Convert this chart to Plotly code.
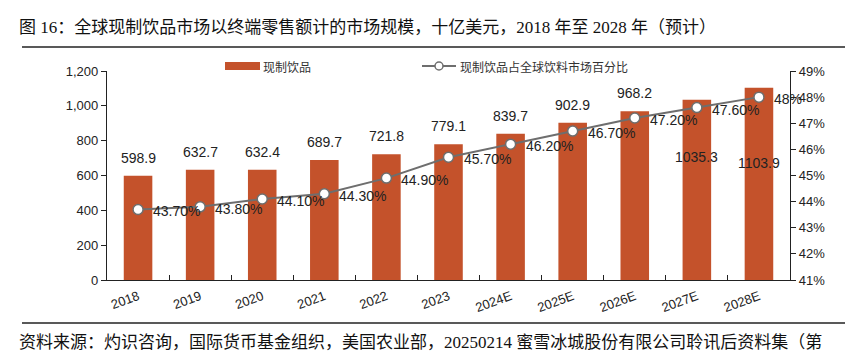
import plotly.graph_objects as go

years = ["2018", "2019", "2020", "2021", "2022", "2023", "2024E", "2025E", "2026E", "2027E", "2028E"]
market = [598.9, 632.7, 632.4, 689.7, 721.8, 779.1, 839.7, 902.9, 968.2, 1035.3, 1103.9]
share = [0.437, 0.438, 0.441, 0.443, 0.449, 0.457, 0.462, 0.467, 0.472, 0.476, 0.480]
share_labels = ["43.70%", "43.80%", "44.10%", "44.30%", "44.90%", "45.70%", "46.20%", "46.70%", "47.20%", "47.60%", "48%"]
y_ticks = [0, 200, 400, 600, 800, 1000, 1200]
bar_name = "现制饮品"
line_name = "现制饮品占全球饮料市场百分比"

BAR = "#C4522B"
LINE = "#6E6E6E"
NUM_FONT = "Liberation Sans, Arial, sans-serif"
CJK = "Liberation Serif, Noto Sans CJK SC, serif"

W, H = 845, 353
L, R, T, B = 107, 55, 71, 73
pw, ph = W - L - R, H - T - B

fig = go.Figure()
fig.add_trace(go.Bar(x=years, y=market, name=bar_name, marker=dict(color=BAR, line=dict(width=0)),
                     width=0.46, hoverinfo="skip", showlegend=False))
fig.add_trace(go.Scatter(x=years, y=share, name=line_name, yaxis="y2", showlegend=False,
                         mode="lines+markers", line=dict(color=LINE, width=2),
                         marker=dict(size=10, color="white", line=dict(color=LINE, width=1.5))))

ann = []
for i, v in enumerate(market):
    if i < 9:
        ann.append(dict(x=i, y=v, xref="x", yref="y", text=f"{v:.1f}", showarrow=False,
                        yanchor="bottom", yshift=8, font=dict(family=NUM_FONT, size=14, color="#222")))
    else:
        ann.append(dict(x=i, y=v * (0.68 if i == 9 else 0.61), xref="x", yref="y", text=f"{v:.1f}", showarrow=False,
                        yanchor="middle", font=dict(family=NUM_FONT, size=14, color="#222")))
for i, (p, t) in enumerate(zip(share, share_labels)):
    ann.append(dict(x=i, y=p, xref="x", yref="y2", text=t, showarrow=False, xanchor="left",
                    xshift=13, yshift=-2, font=dict(family=NUM_FONT, size=14, color="#222")))

def px2paper(px, py):
    return (px - L) / pw, (H - B - py) / ph

def text_at(px, py, text, size, family, color="#111"):
    x, y = px2paper(px, py)
    return dict(x=x, y=y, xref="paper", yref="paper", text=text, showarrow=False,
                xanchor="left", yanchor="middle", font=dict(family=family, size=size, color=color))

ann.append(text_at(17, 27, "图 16：全球现制饮品市场以终端零售额计的市场规模，十亿美元，2018 年至 2028 年（预计）", 17, CJK))
ann.append(text_at(17, 342, "资料来源：灼识咨询，国际货币基金组织，美国农业部，20250214 蜜雪冰城股份有限公司聆讯后资料集（第", 17, CJK))
ann.append(text_at(261, 66, bar_name, 12, "Noto Sans CJK SC", "#333"))
ann.append(text_at(458, 66, line_name, 12, "Noto Sans CJK SC", "#333"))

def hline(py, x0p=22, x1p=845, color="#222", width=1.3):
    x0, y0 = px2paper(x0p, py)
    x1, _ = px2paper(x1p, py)
    return dict(type="line", xref="paper", yref="paper", x0=x0, x1=x1, y0=y0, y1=y0,
                line=dict(color=color, width=width))

def rect(px0, py0, px1, py1, fill):
    x0, y0 = px2paper(px0, py1)
    x1, y1 = px2paper(px1, py0)
    return dict(type="rect", xref="paper", yref="paper", x0=x0, x1=x1, y0=y0, y1=y1,
                fillcolor=fill, line=dict(width=0))

cx, cy = px2paper(439, 66)
rx = 4 / pw
ry = 4 / ph
shapes = [
    hline(47), hline(323),
    rect(225, 62, 260, 70, BAR),
    hline(66, 422, 456, LINE, 2),
    dict(type="circle", xref="paper", yref="paper", x0=cx - rx, x1=cx + rx, y0=cy - ry, y1=cy + ry,
         fillcolor="white", line=dict(color=LINE, width=1.5)),
]

fig.update_layout(
    width=W, height=H, margin=dict(l=L, r=R, t=T, b=B),
    paper_bgcolor="white", plot_bgcolor="white",
    showlegend=False,
    annotations=ann,
    shapes=shapes,
    xaxis=dict(type="category", range=[-0.5, len(years) - 0.5], autorange=False, showline=True, linecolor="#222",
               linewidth=1.2, ticks="inside", tickson="boundaries", ticklabelstandoff=3,
               ticklen=5, tickcolor="#222", tickangle=-20, tickfont=dict(family=NUM_FONT, size=13, color="#222"),
               showgrid=False),
    yaxis=dict(range=[0, 1200], autorange=False, tickvals=y_ticks, ticktext=[f"{v:,}" for v in y_ticks], showline=True,
               linecolor="#222", linewidth=1.2, ticks="outside", ticklen=5, tickcolor="#222", showgrid=False,
               zeroline=False, tickfont=dict(family=NUM_FONT, size=13, color="#222")),
    yaxis2=dict(range=[0.41, 0.49], autorange=False, dtick=0.01, tickformat=".0%", overlaying="y", side="right",
                showline=True, linecolor="#222", linewidth=1.2, ticks="outside", ticklen=5, tickcolor="#222",
                showgrid=False, zeroline=False, tickfont=dict(family=NUM_FONT, size=13, color="#222")),
)

fig.write_html("out.html")
